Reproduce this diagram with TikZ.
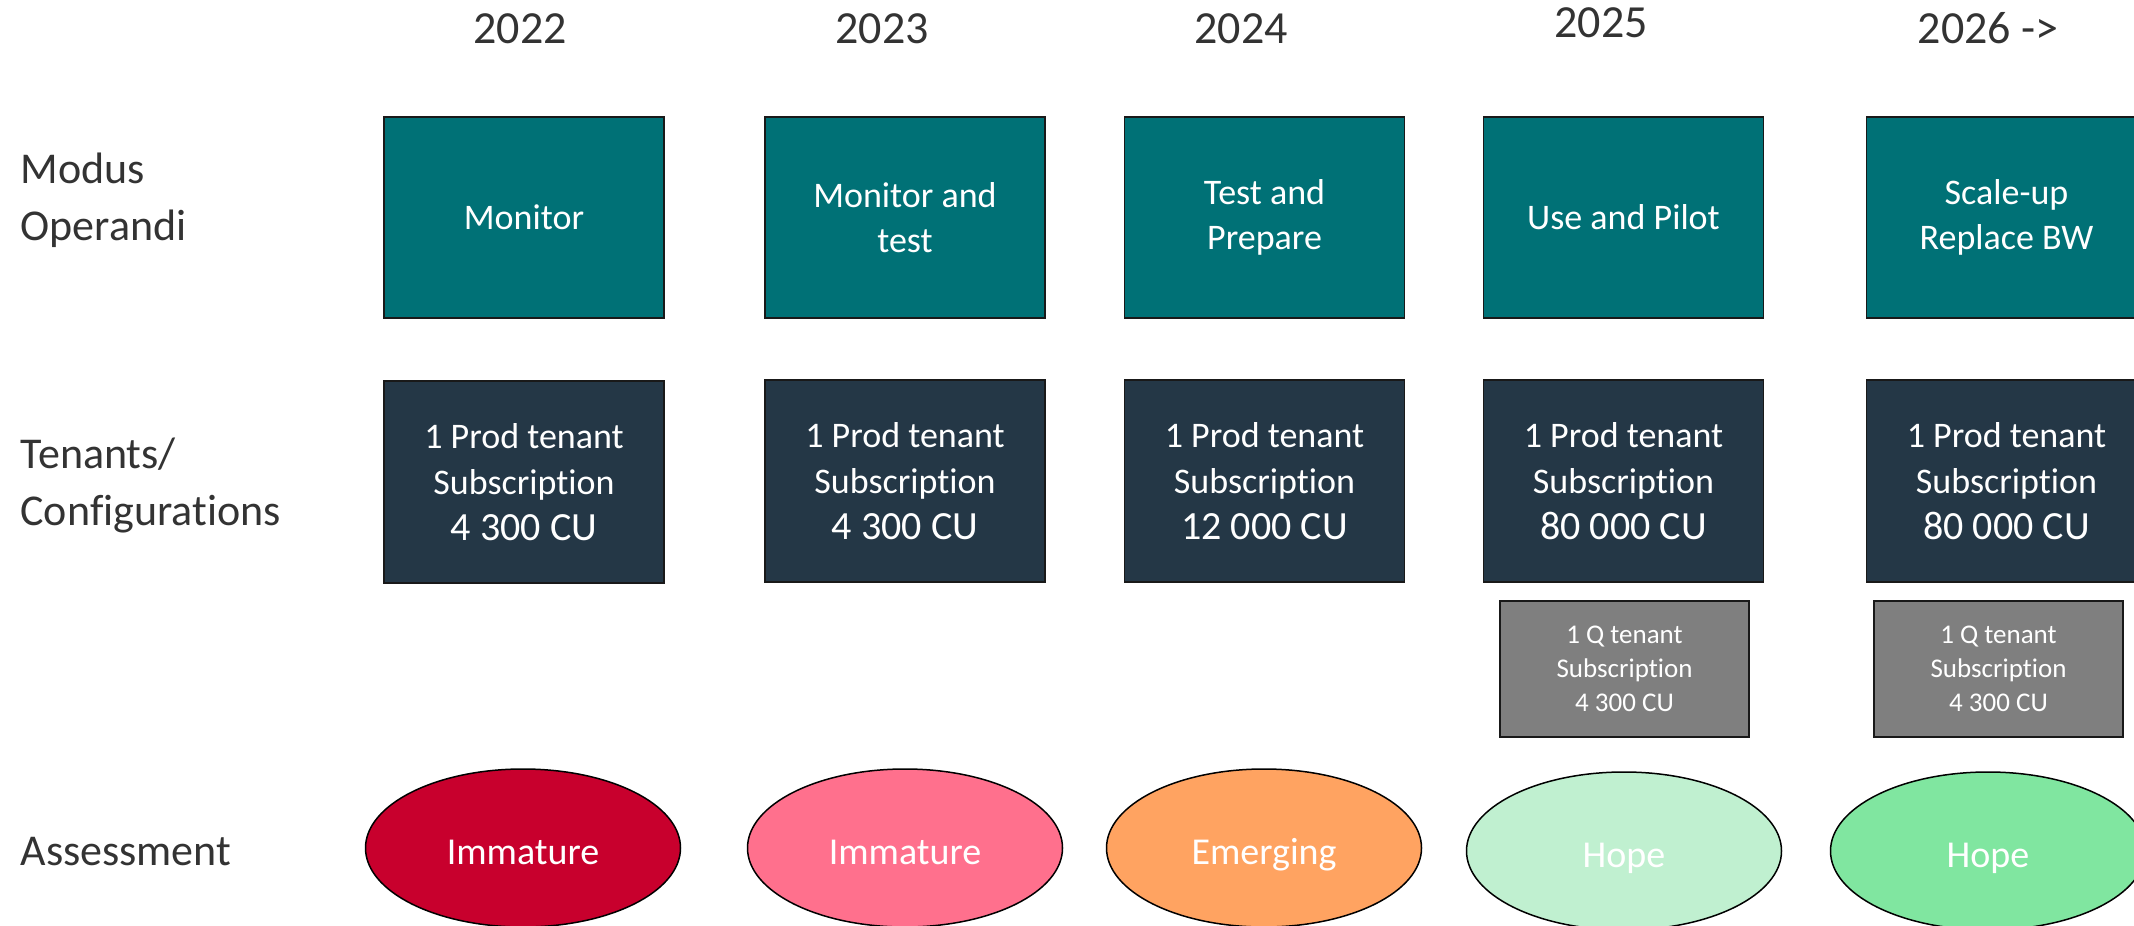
\documentclass[tikz,border=0pt]{standalone}
\usepackage{fontspec}
\setmainfont{Carlito}[Ligatures=NoCommon]
\usetikzlibrary{shapes.geometric}
\definecolor{teal1}{HTML}{007176}
\definecolor{navy1}{HTML}{243746}
\definecolor{grey1}{HTML}{7F7F7F}
\definecolor{red1}{HTML}{C8002D}
\definecolor{pink1}{HTML}{FF708D}
\definecolor{orange1}{HTML}{FFA361}
\definecolor{lgreen1}{HTML}{C0F0D0}
\definecolor{green1}{HTML}{80E6A0}
\definecolor{txt1}{HTML}{333333}
\tikzset{
  yearlbl/.style={anchor=base, text=txt1, font=\fontsize{46}{55}\selectfont},
  rowlbl/.style={anchor=base west, text=txt1, align=left, font=\fontsize{44}{57}\selectfont},
  modebox/.style={draw=black!90, line width=1.5pt, fill=teal1, text=white, align=center,
    minimum width=280pt, minimum height=201pt, inner sep=0pt, font=\fontsize{36}{45}\selectfont},
  tenbox/.style={draw=black!90, line width=1.5pt, fill=navy1, text=white, align=center,
    minimum width=280pt, minimum height=202pt, inner sep=0pt, font=\fontsize{36}{46}\selectfont},
  qbox/.style={draw=black!90, line width=1.5pt, fill=grey1, text=white, align=center,
    minimum width=249pt, minimum height=136pt, inner sep=0pt, font=\fontsize{27}{34}\selectfont},
  assess/.style={ellipse, draw=black, line width=1.5pt, text=white, minimum width=315pt,
    minimum height=158pt, inner sep=0pt, font=\fontsize{38}{44}\selectfont},
}
\newcommand{\cutxt}[1]{{\fontsize{40}{48}\selectfont #1}}
\newcommand{\lowtxt}[1]{\raisebox{-16pt}[0pt][0pt]{#1}}
\begin{document}
\begin{tikzpicture}[x=1pt, y=-1pt]
\useasboundingbox (0,0) rectangle (2134,926);
% years
\node[yearlbl] (y1) at (520,43) {2022};
\node[yearlbl] (y2) at (882,43) {2023};
\node[yearlbl] (y3) at (1241,43) {2024};
\node[yearlbl] (y4) at (1601,37) {2025};
\node[yearlbl] (y5) at (1988,43) {2026 ->};
% row labels
\node[rowlbl] (l1) at (17,240) {Modus\\Operandi};
\node[rowlbl] (l2) at (17,525) {Tenants/\\Configurations};
\node[rowlbl] (l3) at (17,865) {Assessment};
% modus operandi boxes
\node[modebox] (m1) at (524,217.5) {Monitor};
\node[modebox] (m2) at (905,217.5) {Monitor and\\test};
\node[modebox] (m3) at (1264.5,217.5) {Test and\\Prepare};
\node[modebox] (m4) at (1623.5,217.5) {Use and Pilot};
\node[modebox] (m5) at (2006.5,217.5) {Scale-up\\Replace BW};
% tenant boxes
\node[tenbox] (t1) at (524,482) {1 Prod tenant\\Subscription\\\cutxt{4 300 CU}};
\node[tenbox] (t2) at (905,481) {1 Prod tenant\\Subscription\\\cutxt{4 300 CU}};
\node[tenbox] (t3) at (1264.5,481) {1 Prod tenant\\Subscription\\\cutxt{12 000 CU}};
\node[tenbox] (t4) at (1623.5,481) {1 Prod tenant\\Subscription\\\cutxt{80 000 CU}};
\node[tenbox] (t5) at (2006.5,481) {1 Prod tenant\\Subscription\\\cutxt{80 000 CU}};
% Q tenant boxes
\node[qbox] (q4) at (1624.5,669) {1 Q tenant\\Subscription\\4 300 CU};
\node[qbox] (q5) at (1998.5,669) {1 Q tenant\\Subscription\\4 300 CU};
% assessment ellipses
\node[assess, fill=red1] (a1) at (523,848) {\lowtxt{Immature}};
\node[assess, fill=pink1] (a2) at (905,848) {\lowtxt{Immature}};
\node[assess, fill=orange1] (a3) at (1264,848) {\lowtxt{Emerging}};
\node[assess, fill=lgreen1] (a4) at (1624,851) {\lowtxt{Hope}};
\node[assess, fill=green1] (a5) at (1988,851) {\lowtxt{Hope}};
\end{tikzpicture}
\end{document}
